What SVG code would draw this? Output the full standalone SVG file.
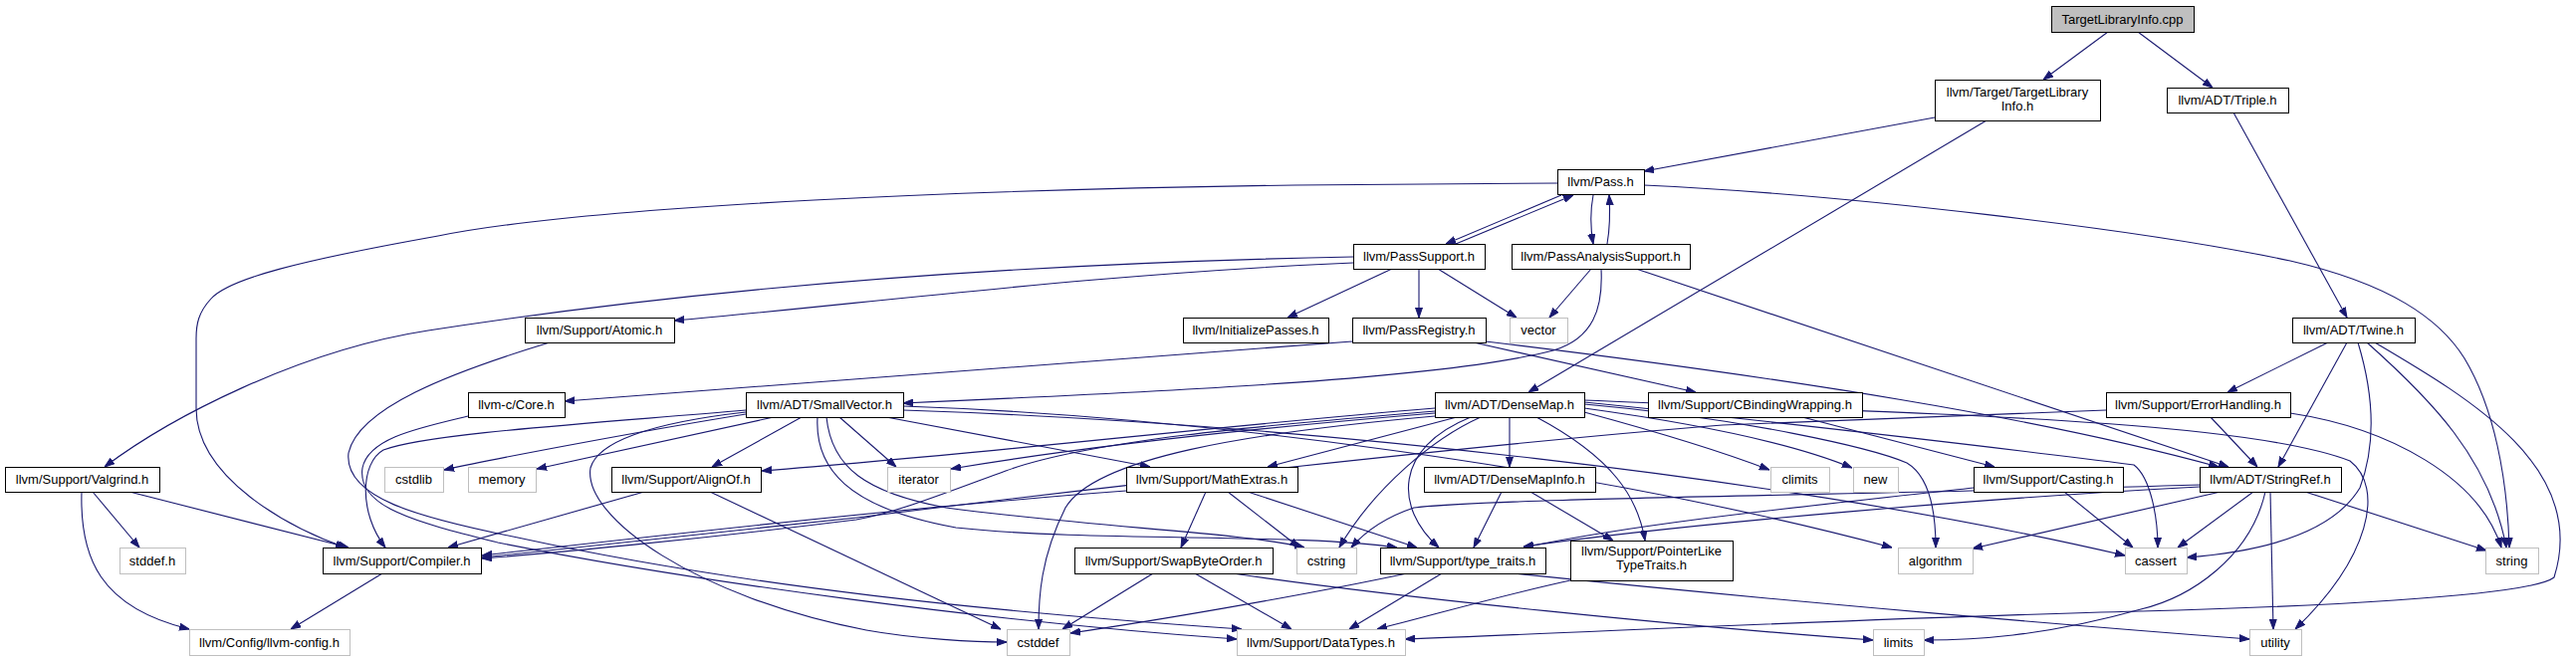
<svg xmlns="http://www.w3.org/2000/svg" width="2587" height="664" viewBox="0 0 2587 664">
<defs>
<marker id="ah" markerWidth="10" markerHeight="8" refX="10" refY="4" orient="auto" markerUnits="userSpaceOnUse"><path d="M0,0.5 L10,4 L0,7.5 z" fill="#191970" stroke="#191970" stroke-width="1"/></marker>
<style>
.e{fill:none;stroke:#191970;stroke-width:1.1;marker-end:url(#ah)}
.n rect{fill:#ffffff;stroke:#000000;stroke-width:1}
.g rect{fill:#ffffff;stroke:#bfbfbf;stroke-width:1}
.r rect{fill:#bfbfbf;stroke:#000000;stroke-width:1}
text{font-family:"Liberation Sans",Arial,sans-serif;font-size:13px;fill:#000000;text-anchor:middle}
</style>
</defs>
<rect width="2587" height="664" fill="#ffffff"/>
<g id="edges">
<path class="e" d="M2117,32 L2052,80"/>
<path class="e" d="M2147,32 L2222,88"/>
<path class="e" d="M1943,118 L1651,172"/>
<path class="e" d="M1995,121 L1535,394"/>
<path class="e" d="M2243,113 L2357,319"/>
<path class="e" d="M1564,184 L1300,186 C1000,190 600,205 440,237 C300,262 230,280 212,300 C199,314 197,326 197,340 L197,410 C197,480 290,530 347,550"/>
<path class="e" d="M1651,186 C1850,195 2150,230 2300,262 C2400,285 2450,320 2475,360 C2505,410 2518,480 2520,550"/>
<path class="e" d="M1568,196 L1452,245"/>
<path class="e" d="M1462,245 L1580,196"/>
<path class="e" d="M1600,196 C1597,212 1597,228 1600,245"/>
<path class="e" d="M1614,245 C1617,228 1617,212 1616,196"/>
<path class="e" d="M1359,258 C1000,265 700,290 430,332 C300,352 170,420 105,469"/>
<path class="e" d="M1359,264 C1100,275 870,305 677,322"/>
<path class="e" d="M1398,270 L1293,319"/>
<path class="e" d="M1425,270 L1425,319"/>
<path class="e" d="M1444,270 L1523,319"/>
<path class="e" d="M1598,270 L1556,319"/>
<path class="e" d="M1608,270 C1610,310 1600,340 1560,352 C1450,380 1200,392 907,405"/>
<path class="e" d="M1643,270 L2238,469"/>
<path class="e" d="M1358,343 C1200,355 900,380 567,403"/>
<path class="e" d="M1480,344 L1703,394"/>
<path class="e" d="M1492,343 C1800,380 2050,420 2228,469"/>
<path class="e" d="M552,344 C450,375 360,410 350,455 C345,500 420,520 520,540 C750,590 1000,615 1247,632"/>
<path class="e" d="M470,418 C420,430 370,440 364,470 C358,510 420,525 500,545 C700,585 1000,625 1242,642"/>
<path class="e" d="M93,494 L140,550"/>
<path class="e" d="M130,494 L350,550"/>
<path class="e" d="M82,494 C80,560 100,610 190,632"/>
<path class="e" d="M384,576 L292,632"/>
<path class="e" d="M805,419 L715,469"/>
<path class="e" d="M749,412 C600,425 430,435 385,452 C362,465 360,515 387,550"/>
<path class="e" d="M749,416 C650,432 500,460 446,472"/>
<path class="e" d="M777,419 L539,471"/>
<path class="e" d="M843,419 L900,469"/>
<path class="e" d="M890,419 L1155,469"/>
<path class="e" d="M821,419 C818,470 850,510 960,530 C1100,545 1300,535 1403,550"/>
<path class="e" d="M830,419 C835,470 870,495 950,510 C1100,530 1250,535 1310,550"/>
<path class="e" d="M749,414 C650,425 600,445 593,470 C585,520 700,600 870,633 C920,642 980,645 1011,645"/>
<path class="e" d="M907,408 C1200,418 1600,470 1900,550"/>
<path class="e" d="M907,412 C1300,425 1800,480 2134,558"/>
<path class="e" d="M647,494 L450,550"/>
<path class="e" d="M713,494 L1005,632"/>
<path class="e" d="M1131,493 C900,510 600,545 484,558"/>
<path class="e" d="M1211,494 L1186,550"/>
<path class="e" d="M1253,494 L1423,550"/>
<path class="e" d="M1233,494 L1305,550"/>
<path class="e" d="M1158,576 L1067,632"/>
<path class="e" d="M1200,576 L1297,632"/>
<path class="e" d="M1238,576 C1400,600 1700,630 1881,643"/>
<path class="e" d="M1413,576 C1300,600 1150,625 1075,636"/>
<path class="e" d="M1448,576 L1355,632"/>
<path class="e" d="M1520,576 C1800,605 2100,630 2259,642"/>
<path class="e" d="M1516,419 L1516,469"/>
<path class="e" d="M1441,410 C1200,430 1000,455 765,473"/>
<path class="e" d="M1441,413 C1300,425 1100,440 1010,473 C950,495 900,515 860,522 C700,542 550,556 484,561"/>
<path class="e" d="M1441,415 C1200,435 1050,455 955,471"/>
<path class="e" d="M1463,419 L1273,469"/>
<path class="e" d="M1441,418 C1250,435 1100,460 1070,510 C1045,560 1043,600 1043,632"/>
<path class="e" d="M1487,419 C1440,440 1380,490 1345,550"/>
<path class="e" d="M1477,419 C1400,450 1400,510 1445,550"/>
<path class="e" d="M1543,419 C1620,460 1645,500 1652,543"/>
<path class="e" d="M1591,414 C1650,430 1720,450 1777,472"/>
<path class="e" d="M1591,410 C1700,425 1800,445 1860,470"/>
<path class="e" d="M1591,406 C1750,420 1880,450 1915,465 C1940,480 1944,520 1944,550"/>
<path class="e" d="M1591,404 C1800,425 2050,455 2143,467 C2160,480 2167,520 2167,550"/>
<path class="e" d="M1591,402 C1900,415 2250,420 2360,463 C2395,490 2380,560 2305,632"/>
<path class="e" d="M1508,494 L1480,550"/>
<path class="e" d="M1537,494 L1620,543"/>
<path class="e" d="M1577,583 C1500,600 1450,615 1383,632"/>
<path class="e" d="M1810,419 L2003,469"/>
<path class="e" d="M1982,490 C1800,510 1650,525 1530,550"/>
<path class="e" d="M2073,494 L2142,550"/>
<path class="e" d="M2220,419 L2267,469"/>
<path class="e" d="M2300,415 C2400,430 2490,480 2512,550"/>
<path class="e" d="M2115,412 L1730,427 C1500,445 1100,490 860,520 L484,560"/>
<path class="e" d="M2338,344 L2237,394"/>
<path class="e" d="M2357,344 L2288,469"/>
<path class="e" d="M2368,344 C2385,400 2385,450 2370,490 C2340,540 2260,555 2196,560"/>
<path class="e" d="M2377,344 C2440,400 2500,460 2517,550"/>
<path class="e" d="M2385,344 C2480,400 2600,470 2565,580 C2540,600 2300,610 2150,614 C1900,620 1600,635 1411,642"/>
<path class="e" d="M2209,489 C2000,500 1700,525 1530,549"/>
<path class="e" d="M2230,494 L1981,551"/>
<path class="e" d="M2209,487 C1900,497 1500,500 1420,510 C1390,520 1370,535 1357,550"/>
<path class="e" d="M2263,494 L2187,550"/>
<path class="e" d="M2315,494 L2497,553"/>
<path class="e" d="M2280,494 L2283,632"/>
<path class="e" d="M2275,494 C2260,560 2200,600 2150,612 C2050,640 1980,643 1932,643"/>
</g>
<g id="n1" class="r"><rect x="2060.5" y="6.5" width="143" height="26"/><text x="2131.5" y="23.5">TargetLibraryInfo.cpp</text></g>
<g id="n2" class="n"><rect x="1943.5" y="80.5" width="166" height="41"/><text x="2026" y="97">llvm/Target/TargetLibrary</text><text x="2026" y="111">Info.h</text></g>
<g id="n3" class="n"><rect x="2176.5" y="88.5" width="122" height="25"/><text x="2237" y="105">llvm/ADT/Triple.h</text></g>
<g id="n4" class="n"><rect x="1564.5" y="170.5" width="87" height="25"/><text x="1607.5" y="187">llvm/Pass.h</text></g>
<g id="n5" class="n"><rect x="1359.5" y="245.5" width="132" height="25"/><text x="1425" y="262">llvm/PassSupport.h</text></g>
<g id="n6" class="n"><rect x="1518.5" y="245.5" width="179" height="25"/><text x="1607.5" y="262">llvm/PassAnalysisSupport.h</text></g>
<g id="n7" class="n"><rect x="1188.5" y="319.5" width="146" height="25"/><text x="1261" y="336">llvm/InitializePasses.h</text></g>
<g id="n8" class="n"><rect x="1358.5" y="319.5" width="134" height="25"/><text x="1425" y="336">llvm/PassRegistry.h</text></g>
<g id="n9" class="g"><rect x="1516.5" y="319.5" width="58" height="25"/><text x="1545" y="336">vector</text></g>
<g id="n10" class="n"><rect x="527.5" y="319.5" width="150" height="25"/><text x="602" y="336">llvm/Support/Atomic.h</text></g>
<g id="n11" class="n"><rect x="5.5" y="469.5" width="155" height="25"/><text x="82.5" y="486">llvm/Support/Valgrind.h</text></g>
<g id="n12" class="g"><rect x="120.5" y="550.5" width="66" height="26"/><text x="153" y="567.5">stddef.h</text></g>
<g id="n13" class="n"><rect x="324.5" y="550.5" width="159" height="26"/><text x="403.5" y="567.5">llvm/Support/Compiler.h</text></g>
<g id="n14" class="g"><rect x="190.5" y="632.5" width="161" height="26"/><text x="270.5" y="649.5">llvm/Config/llvm-config.h</text></g>
<g id="n15" class="g"><rect x="386.5" y="469.5" width="59" height="25"/><text x="415.5" y="486">cstdlib</text></g>
<g id="n16" class="g"><rect x="470.5" y="469.5" width="68" height="25"/><text x="504" y="486">memory</text></g>
<g id="n17" class="n"><rect x="614.5" y="469.5" width="150" height="25"/><text x="689" y="486">llvm/Support/AlignOf.h</text></g>
<g id="n18" class="n"><rect x="470.5" y="394.5" width="97" height="25"/><text x="518.5" y="411">llvm-c/Core.h</text></g>
<g id="n19" class="n"><rect x="749.5" y="394.5" width="158" height="25"/><text x="828" y="411">llvm/ADT/SmallVector.h</text></g>
<g id="n20" class="g"><rect x="891.5" y="469.5" width="63" height="25"/><text x="922.5" y="486">iterator</text></g>
<g id="n21" class="n"><rect x="1131.5" y="469.5" width="172" height="25"/><text x="1217" y="486">llvm/Support/MathExtras.h</text></g>
<g id="n22" class="n"><rect x="1079.5" y="550.5" width="199" height="26"/><text x="1178.5" y="567.5">llvm/Support/SwapByteOrder.h</text></g>
<g id="n23" class="g"><rect x="1011.5" y="632.5" width="63" height="26"/><text x="1042.5" y="649.5">cstddef</text></g>
<g id="n24" class="g"><rect x="1242.5" y="632.5" width="169" height="26"/><text x="1326.5" y="649.5">llvm/Support/DataTypes.h</text></g>
<g id="n25" class="n"><rect x="1441.5" y="394.5" width="150" height="25"/><text x="1516" y="411">llvm/ADT/DenseMap.h</text></g>
<g id="n26" class="n"><rect x="1655.5" y="394.5" width="215" height="25"/><text x="1762.5" y="411">llvm/Support/CBindingWrapping.h</text></g>
<g id="n27" class="g"><rect x="1302.5" y="550.5" width="60" height="26"/><text x="1332" y="567.5">cstring</text></g>
<g id="n28" class="n"><rect x="1386.5" y="550.5" width="166" height="26"/><text x="1469" y="567.5">llvm/Support/type_traits.h</text></g>
<g id="n29" class="n"><rect x="1430.5" y="469.5" width="172" height="25"/><text x="1516" y="486">llvm/ADT/DenseMapInfo.h</text></g>
<g id="n30" class="n"><rect x="1577.5" y="543.5" width="163" height="40"/><text x="1658.5" y="558">llvm/Support/PointerLike</text><text x="1658.5" y="572">TypeTraits.h</text></g>
<g id="n31" class="g"><rect x="1778.5" y="469.5" width="59" height="25"/><text x="1807.5" y="486">climits</text></g>
<g id="n32" class="g"><rect x="1861.5" y="469.5" width="45" height="25"/><text x="1883.5" y="486">new</text></g>
<g id="n33" class="n"><rect x="1982.5" y="469.5" width="150" height="25"/><text x="2057" y="486">llvm/Support/Casting.h</text></g>
<g id="n34" class="g"><rect x="1906.5" y="550.5" width="75" height="26"/><text x="1943.5" y="567.5">algorithm</text></g>
<g id="n35" class="g"><rect x="2134.5" y="550.5" width="62" height="26"/><text x="2165" y="567.5">cassert</text></g>
<g id="n36" class="g"><rect x="1881.5" y="632.5" width="51" height="26"/><text x="1906.5" y="649.5">limits</text></g>
<g id="n37" class="n"><rect x="2115.5" y="394.5" width="185" height="25"/><text x="2207.5" y="411">llvm/Support/ErrorHandling.h</text></g>
<g id="n38" class="n"><rect x="2302.5" y="319.5" width="123" height="25"/><text x="2363.5" y="336">llvm/ADT/Twine.h</text></g>
<g id="n39" class="n"><rect x="2209.5" y="469.5" width="142" height="25"/><text x="2280" y="486">llvm/ADT/StringRef.h</text></g>
<g id="n40" class="g"><rect x="2496.5" y="550.5" width="53" height="26"/><text x="2522.5" y="567.5">string</text></g>
<g id="n41" class="g"><rect x="2259.5" y="632.5" width="52" height="26"/><text x="2285" y="649.5">utility</text></g>
</svg>
